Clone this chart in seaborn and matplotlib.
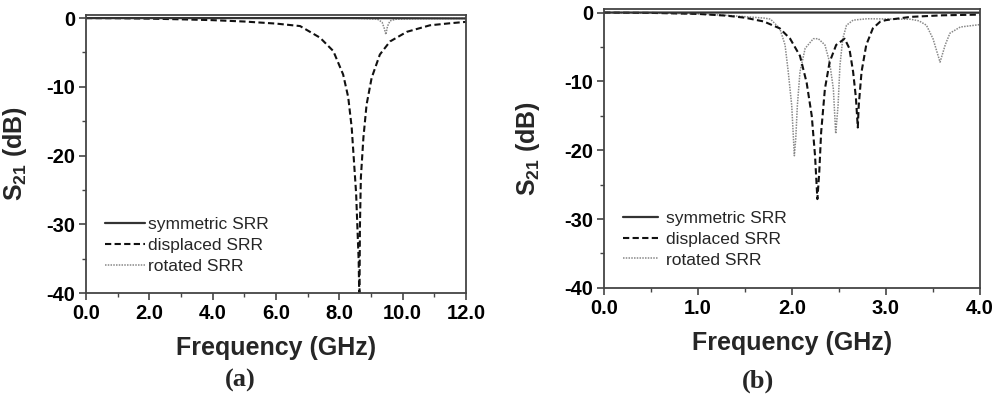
import numpy as np
import pandas as pd
import matplotlib
matplotlib.use("Agg")
import matplotlib.pyplot as plt
from matplotlib.ticker import MultipleLocator, FormatStrFormatter
import seaborn as sns

# ---- panel (a): 0-12 GHz ----
freq_a_sym = [0.0, 2.0, 4.0, 6.0, 8.0, 10.0, 12.0]
s21_a_sym = [0.0, 0.0, 0.0, 0.0, 0.0, -0.02, -0.05]

freq_a_disp = [0.0, 1.0, 2.0, 3.0, 4.0, 5.0, 6.0, 6.76, 7.39, 7.81, 8.12, 8.28, 8.39,
               8.46, 8.53, 8.57, 8.61, 8.635, 8.65, 8.68, 8.76, 8.86, 9.02, 9.28, 9.6,
               10.13, 10.86, 11.5, 12.0]
s21_a_disp = [0.0, -0.02, -0.08, -0.18, -0.3, -0.5, -0.8, -1.16, -2.85, -4.8, -8.2, -11.5,
              -15.9, -20.7, -25.5, -30.4, -35.2, -42.0, -30.4, -23.2, -17.4, -12.6, -8.7,
              -5.3, -3.4, -2.0, -1.05, -0.75, -0.55]

freq_a_rot = [0.0, 2.0, 4.0, 6.0, 8.0, 8.7, 9.2, 9.35, 9.42, 9.47, 9.52, 9.6, 9.8, 10.5, 12.0]
s21_a_rot = [0.0, 0.0, 0.0, 0.0, 0.0, -0.05, -0.15, -0.6, -1.5, -2.4, -1.2, -0.4, -0.15,
             -0.08, -0.05]

# ---- panel (b): 0-4 GHz ----
freq_b_sym = [0.0, 1.0, 2.0, 3.0, 4.0]
s21_b_sym = [0.0, 0.0, 0.0, 0.0, -0.02]

freq_b_disp = [0.0, 0.5, 1.0, 1.3, 1.5, 1.7, 1.87, 1.98, 2.085, 2.156, 2.21, 2.245, 2.27,
               2.29, 2.31, 2.35, 2.40, 2.47, 2.56, 2.61, 2.65, 2.68, 2.70, 2.71, 2.74, 2.79,
               2.86, 2.94, 3.0, 3.26, 3.6, 4.0]
s21_b_disp = [0.0, -0.05, -0.2, -0.45, -0.75, -1.3, -2.3, -3.8, -6.3, -10.2, -15.0, -20.8,
              -27.1, -23.2, -17.4, -11.1, -7.2, -4.7, -3.8, -5.2, -8.6, -12.4, -16.7, -13.5,
              -8.6, -4.7, -2.3, -1.3, -1.1, -0.63, -0.4, -0.3]

freq_b_rot = [0.0, 0.5, 1.0, 1.3, 1.5, 1.7, 1.77, 1.87, 1.926, 1.96, 1.997, 2.025, 2.04,
              2.057, 2.085, 2.14, 2.227, 2.28, 2.35, 2.40, 2.44, 2.465, 2.49, 2.51, 2.54,
              2.58, 2.65, 2.80, 3.26, 3.35, 3.43, 3.50, 3.575, 3.63, 3.68, 3.79, 4.0]
s21_b_rot = [0.0, -0.05, -0.2, -0.4, -0.6, -0.8, -0.95, -2.3, -4.7, -8.6, -13.5, -20.8, -18.3,
             -13.5, -8.6, -5.2, -3.8, -3.8, -4.7, -7.2, -11.1, -17.6, -13.5, -7.7, -3.8,
             -1.85, -1.1, -0.9, -0.97, -1.2, -1.84, -3.8, -7.2, -4.7, -3.0, -2.1, -1.75]

labels = ["symmetric SRR", "displaced SRR", "rotated SRR"]
styles = {
    "symmetric SRR": dict(color="#333333", linestyle="-", lw=1.6),
    "displaced SRR": dict(color="#111111", linestyle=(0, (3, 1.6)), lw=1.5),
    "rotated SRR": dict(color="#888888", linestyle=(0, (1, 0.8)), lw=1.1),
}

sns.set_theme(style="ticks")
plt.rcParams.update({
    "font.family": ["Liberation Sans", "DejaVu Sans"],
    "mathtext.fontset": "custom",
    "mathtext.rm": "Liberation Sans",
    "mathtext.bf": "Liberation Sans:bold",
    "axes.unicode_minus": False,
    "axes.edgecolor": "#444444",
    "axes.linewidth": 1.3,
    "xtick.color": "#444444",
    "ytick.color": "#444444",
    "xtick.labelcolor": "black",
    "ytick.labelcolor": "black",
})


def draw_panel(ax, series, xmax, xmajor, ylabel_x, legend_xy, handlelen, textpad, xpad):
    for name in ["rotated SRR", "displaced SRR", "symmetric SRR"]:
        f, s = series[name]
        df = pd.DataFrame({"f": f, "s21": s})
        sns.lineplot(data=df, x="f", y="s21", ax=ax, label=name, **styles[name])
    ax.set_xlim(0, xmax)
    ax.set_ylim(-40, 0.5)
    ax.xaxis.set_major_locator(MultipleLocator(xmajor))
    ax.xaxis.set_minor_locator(MultipleLocator(xmajor / 2))
    ax.yaxis.set_major_locator(MultipleLocator(10))
    ax.yaxis.set_minor_locator(MultipleLocator(5))
    ax.xaxis.set_major_formatter(FormatStrFormatter("%.1f"))
    ax.tick_params(which="major", direction="out", length=5, width=1.2,
                   labelsize=14.5, pad=3, top=False, right=False)
    ax.tick_params(which="minor", direction="out", length=3, width=1.0,
                   top=False, right=False)
    for lab in ax.get_xticklabels() + ax.get_yticklabels():
        lab.set_fontweight("bold")
    for sp in ax.spines.values():
        sp.set_visible(True)
    ax.set_xlabel("Frequency (GHz)", fontsize=18, fontweight="bold", labelpad=xpad)
    ax.set_ylabel(r"$\mathbf{S_{21}}$ (dB)", fontsize=18, fontweight="bold")
    ax.yaxis.set_label_coords(ylabel_x, 0.5)
    h, l = ax.get_legend_handles_labels()
    order = [l.index(n) for n in labels]
    ax.legend([h[i] for i in order], [l[i] for i in order], loc="upper left",
              bbox_to_anchor=legend_xy, frameon=False, fontsize=12.5,
              handlelength=handlelen, handletextpad=textpad, labelspacing=0.32,
              borderaxespad=0, borderpad=0)


fig = plt.figure(figsize=(10, 3.96), dpi=100)
ax_a = fig.add_axes([0.086, 0.26, 0.380, 0.703])
ax_b = fig.add_axes([0.604, 0.273, 0.376, 0.704])

draw_panel(ax_a, {"symmetric SRR": (freq_a_sym, s21_a_sym),
                  "displaced SRR": (freq_a_disp, s21_a_disp),
                  "rotated SRR": (freq_a_rot, s21_a_rot)},
           12, 2, -0.15, (0.05, 0.272), 2.3, 0.2, 9)
draw_panel(ax_b, {"symmetric SRR": (freq_b_sym, s21_b_sym),
                  "displaced SRR": (freq_b_disp, s21_b_disp),
                  "rotated SRR": (freq_b_rot, s21_b_rot)},
           4, 1, -0.166, (0.05, 0.276), 2.0, 0.5, 9)

fig.text(0.240, 0.038, "(a)", ha="center", va="center", fontsize=19,
         fontweight="bold", family="Liberation Serif")
fig.text(0.758, 0.038, "(b)", ha="center", va="center", fontsize=19,
         fontweight="bold", family="Liberation Serif")

fig.savefig("out.png", dpi=100)
